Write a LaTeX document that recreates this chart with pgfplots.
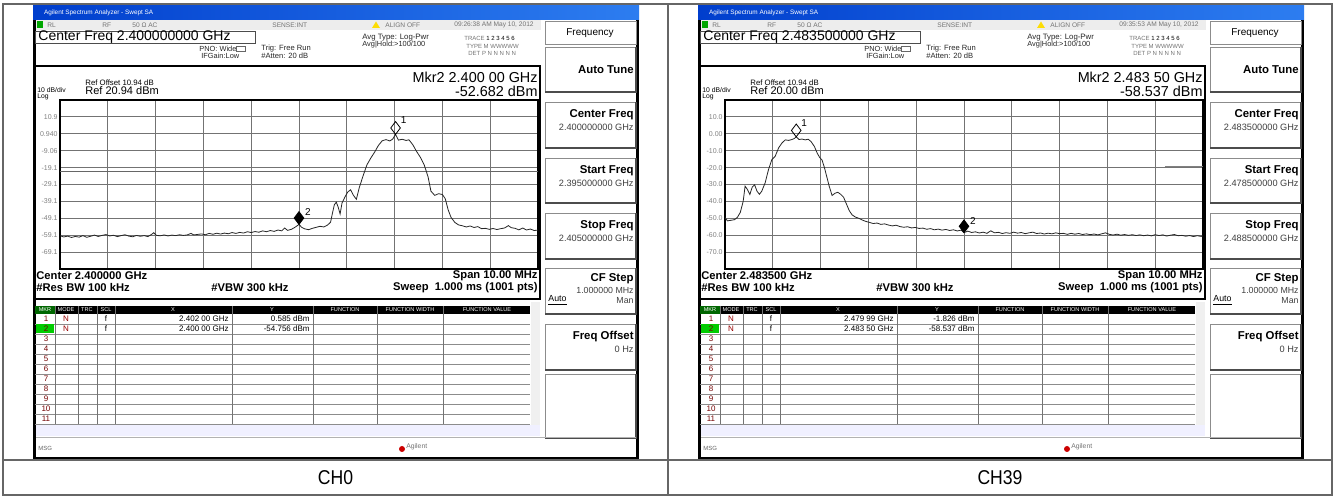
\documentclass[border=0pt]{standalone}
\usepackage{pgfplots}
\pgfplotsset{compat=1.18}
\usepackage{fontspec}
\setmainfont{Liberation Sans}

\newcommand\fs[1]{\fontsize{#1}{#1}\selectfont}
\definecolor{tbA}{RGB}{0,62,205}
\definecolor{tbB}{RGB}{45,125,240}

% one soft key: top, bottom, label, value
\newcommand\skey[4]{%
  \draw[black!45, fill=white] (545,#1) rectangle (636,#2);
  \draw[black!70, line width=0.6pt] (636,#1) -- (636,#2) -- (545,#2);
  \node[anchor=east, inner sep=0.5pt, font={\bfseries\fs{5.7}}] at (635,#1+13) {#3};
  \node[anchor=east, inner sep=0.5pt, font={\fs{4.6}}, black!75] at (635,#1+25) {#4};}

% analyzer window around the trace (strings set with \def before each call)
\newcommand\screen[1]{%
\begin{scope}[xshift=#1]
  \fill[black] (33,5) rectangle (639,460);
  \fill[white] (36,5) rectangle (636,457);
  \shade[left color=tbA, right color=tbB] (33,5) rectangle (639,20);
  \node[anchor=west, white, font={\fs{3.2}}] at (37,12.5) {Agilent Spectrum Analyzer - Swept SA};
  % status line
  \fill[black!7] (36,20) rectangle (541,30);
  \fill[green!65!black] (37,21.5) rectangle (43,28.5);
  \begin{scope}[font={\fs{3.3}}, black!55, inner sep=0pt]
    \node[anchor=west] at (47,25) {RL};
    \node[anchor=west] at (102,25) {RF};
    \node[anchor=west] at (132,25) {50 Ω AC};
    \node[anchor=west] at (272,25) {SENSE:INT};
    \node[anchor=west] at (385,25) {ALIGN OFF};
    \node[anchor=east] at (534,25) {\TIME};
  \end{scope}
  \fill[yellow!80!orange] (372,28) -- (376,21.5) -- (380,28) -- cycle;
  % centre frequency box
  \draw[black!70, line width=0.4pt] (35,31) rectangle (255,43.5);
  \node[anchor=west, inner sep=1pt, font={\fs{7}}] at (36,37.5) {Center Freq \CF};
  \begin{scope}[inner sep=0pt, black!85]
    \node[anchor=west, font={\fs{3.7}}] at (199,48.5) {PNO: Wide};
    \draw[black!60, line width=0.3pt] (236,46) rectangle (245,51.5);
    \node[anchor=west, font={\fs{3.7}}] at (201,56) {IFGain:Low};
    \node[anchor=west, font={\fs{3.8}}] at (261,48.5) {Trig: Free Run};
    \node[anchor=west, font={\fs{3.8}}] at (261,56) {\#Atten: 20 dB};
    \node[anchor=west, font={\fs{3.9}}] at (362,38) {Avg Type: Log-Pwr};
    \node[anchor=west, font={\fs{3.7}}] at (362,45) {Avg|Hold:>100/100};
    \node[anchor=west, font={\fs{3.0}}, black!55] at (464,38) {TRACE \textcolor{black}{1 2 3 4 5 6}};
    \node[anchor=west, font={\fs{3.0}}, black!55] at (466,46) {TYPE M WWWWW};
    \node[anchor=west, font={\fs{3.0}}, black!55] at (468,53) {DET P N N N N N};
  \end{scope}
  % trace window
  \draw[black, line width=0.8pt] (35,66) rectangle (540,299);
  \begin{scope}[inner sep=0pt]
    \node[anchor=west, font={\fs{3.9}}] at (85,83) {Ref Offset 10.94 dB};
    \node[anchor=west, font={\fs{3.4}}] at (37,90) {10 dB/div};
    \node[anchor=west, font={\fs{5.5}}] at (85,91) {Ref \REF};
    \node[anchor=west, font={\fs{3.4}}] at (37,96.5) {Log};
    \node[anchor=east, font={\fs{7.2}}] at (538,77) {Mkr2 \MK};
    \node[anchor=east, font={\fs{7.2}}] at (538,91) {\MV};
    \node[anchor=west, font={\bfseries\fs{5.6}}] at (36,276) {Center \CS};
    \node[anchor=east, font={\bfseries\fs{5.6}}] at (538,276) {Span 10.00 MHz};
    \node[anchor=west, font={\bfseries\fs{5.6}}] at (36,288) {\#Res BW 100 kHz};
    \node[font={\bfseries\fs{5.6}}] at (250,288) {\#VBW 300 kHz};
    \node[anchor=east, font={\bfseries\fs{5.6}}] at (538,288) {Sweep\ \ 1.000 ms (1001 pts)};
  \end{scope}
  % soft keys
  \fill[white] (541,20) rectangle (636,457);
  \draw[black!45, fill=white] (545,21) rectangle (636,44);
  \node[font={\fs{5}}] at (590,33) {Frequency};
  \skey{47}{92}{}{}
  \node[anchor=east, inner sep=0.5pt, font={\bfseries\fs{5.7}}] at (635,70) {Auto Tune};
  \skey{102}{148}{Center Freq}{\CF}
  \skey{158}{203}{Start Freq}{\SF}
  \skey{213}{259}{Stop Freq}{\EF}
  \skey{268}{314}{}{}
  \node[anchor=east, inner sep=0.5pt, font={\bfseries\fs{5.7}}] at (635,279) {CF Step};
  \node[anchor=east, inner sep=0.5pt, font={\fs{4.4}}, black!75] at (635,290) {1.000000 MHz};
  \node[anchor=west, inner sep=0.5pt, font={\fs{4.4}}] at (547,300.5) {\underline{Auto}};
  \node[anchor=east, inner sep=0.5pt, font={\fs{4.4}}, black!75] at (635,300.5) {Man};
  \skey{324}{370}{Freq Offset}{0 Hz}
  \draw[black!45, fill=white] (545,374) rectangle (636,438);
  \draw[black!70, line width=0.6pt] (636,374) -- (636,438) -- (545,438);
  % marker table
  \fill[black] (35,306) rectangle (530,314);
  \fill[green!40!black] (35,306) rectangle (55,314);
  \fill[black!6] (531,302) rectangle (540,425);
  \fill[blue!6] (36,425) rectangle (540,436);
  \foreach \i in {1,...,11} {\draw[black!45, line width=0.4pt] (35,314+10*\i) -- (530,314+10*\i);}
  \foreach \c in {55,78,97,115,232,313,377,443} {\draw[black!55, line width=0.4pt] (\c,306) -- (\c,424);}
  \begin{scope}[font={\fs{2.8}}, white, inner sep=0pt]
    \node at (45,310) {MKR}; \node at (66,310) {MODE}; \node at (87,310) {TRC};
    \node at (106,310) {SCL}; \node at (173,310) {X}; \node at (272,310) {Y};
    \node at (345,310) {FUNCTION}; \node at (410,310) {FUNCTION WIDTH};
    \node at (487,310) {FUNCTION VALUE};
  \end{scope}
  \fill[green!80!black] (36,324.5) rectangle (54,333.5);
  \foreach \i in {1,...,11} {\node[font={\fs{4}}, red!45!black, inner sep=0pt] at (46,309+10*\i) {\i};}
  \begin{scope}[font={\fs{4}}, inner sep=0pt]
    \node[red!60!black] at (66,319) {N}; \node[red!60!black] at (66,329) {N};
    \node at (106,319) {f}; \node at (106,329) {f};
    \node[anchor=east] at (229,319) {\XA}; \node[anchor=east] at (310,319) {\YA};
    \node[anchor=east] at (229,329) {\XB}; \node[anchor=east] at (310,329) {\YB};
  \end{scope}
  % message line
  \draw[black!30] (36,437) -- (636,437);
  \node[anchor=west, font={\fs{3}}, black!60, inner sep=0pt] at (38,448) {MSG};
  \fill[red!80!black] (402,449) circle (3);
  \node[anchor=west, font={\fs{3.4}}, black!55, inner sep=0pt] at (406,447) {Agilent};
\end{scope}}

\pgfplotsset{sa/.style={
  anchor=north west, scale only axis, width=239pt, height=84.5pt,
  xmin=-5, xmax=5, xtick={-4,-3,...,4}, xticklabels={},
  grid=major, major grid style={black!55, line width=0.45pt},
  axis line style={line width=0.9pt}, major tick length=0pt,
  yticklabel style={font={\fs{3.5}}, text=black!50, inner sep=1pt},
  clip=true}}

\begin{document}
\begin{tikzpicture}[x=0.5pt, y=-0.5pt]
\useasboundingbox (0,0) rectangle (1335,496);
\fill[white] (0,0) rectangle (1335,496);

% ---------- CH0 ----------
\def\TIME{09:26:38 AM May 10, 2012}
\def\CF{2.400000000 GHz}\def\SF{2.395000000 GHz}\def\EF{2.405000000 GHz}
\def\REF{20.94 dBm}\def\MK{2.400 00 GHz}\def\MV{-52.682 dBm}\def\CS{2.400000 GHz}
\def\XA{2.402 00 GHz}\def\YA{0.585 dBm}\def\XB{2.400 00 GHz}\def\YB{-54.756 dBm}
\screen{0pt}
\begin{axis}[sa, at={(30pt,-50pt)}, ymin=-79.06, ymax=20.94,
  ytick={10.94,0.94,-9.06,-19.06,-29.06,-39.06,-49.06,-59.06,-69.06},
  yticklabels={10.9,0.940,-9.06,-19.1,-29.1,-39.1,-49.1,-59.1,-69.1}]
\addplot[black!60, line width=0.4pt] coordinates {(-5,-21.5) (5,-21.5)};
\addplot[black!85, line width=0.4pt] coordinates {
(-5.00,-59.4) (-4.92,-60.1) (-4.84,-59.6) (-4.76,-60.4) (-4.68,-59.8) (-4.60,-60.2)
(-4.52,-59.3) (-4.44,-60.3) (-4.36,-59.7) (-4.28,-59.0) (-4.20,-59.8) (-4.12,-59.2)
(-4.04,-58.7) (-3.96,-59.5) (-3.88,-59.1) (-3.80,-59.9) (-3.72,-59.3) (-3.64,-58.8)
(-3.56,-59.6) (-3.48,-60.0) (-3.40,-59.2) (-3.32,-59.7) (-3.24,-59.3) (-3.16,-59.9)
(-3.08,-58.5) (-3.04,-57.6) (-2.98,-59.2) (-2.90,-59.4) (-2.82,-58.9) (-2.74,-59.5)
(-2.66,-59.0) (-2.58,-59.3) (-2.50,-58.8) (-2.42,-59.2) (-2.34,-58.9) (-2.26,-58.0)
(-2.20,-58.9) (-2.12,-58.6) (-2.04,-58.3) (-1.96,-58.8) (-1.88,-58.0) (-1.80,-58.5)
(-1.72,-57.9) (-1.64,-58.4) (-1.56,-57.8) (-1.48,-58.2) (-1.40,-57.5) (-1.32,-58.0)
(-1.24,-57.4) (-1.16,-57.8) (-1.08,-57.0) (-1.00,-57.5) (-0.92,-56.9) (-0.84,-57.3)
(-0.76,-56.5) (-0.68,-57.0) (-0.60,-56.3) (-0.52,-56.8) (-0.44,-56.0) (-0.36,-56.5)
(-0.30,-54.8) (-0.24,-56.2) (-0.16,-55.6) (-0.08,-54.3) (0.00,-52.7) (0.06,-54.5)
(0.12,-55.3) (0.20,-55.8) (0.28,-55.0) (0.36,-54.4) (0.44,-53.8) (0.52,-54.2)
(0.60,-53.0) (0.66,-51.4) (0.70,-46.0) (0.74,-41.0) (0.78,-39.5) (0.82,-42.5)
(0.86,-46.5) (0.90,-40.0) (0.96,-36.5) (1.02,-33.5) (1.08,-32.2) (1.14,-35.5)
(1.20,-37.8) (1.26,-31.0) (1.34,-24.0) (1.42,-17.5) (1.50,-13.5) (1.58,-10.0)
(1.66,-6.0) (1.74,-3.2) (1.82,-2.5) (1.90,-3.3) (1.96,-2.2) (2.02,0.6)
(2.08,-2.8) (2.16,-2.3) (2.24,-3.0) (2.30,-2.6) (2.38,-5.5) (2.46,-9.5)
(2.54,-13.0) (2.62,-17.5) (2.70,-24.5) (2.76,-33.0) (2.84,-35.5) (2.92,-34.5)
(3.00,-35.0) (3.06,-37.5) (3.12,-44.0) (3.18,-48.5) (3.26,-51.5) (3.34,-53.0)
(3.42,-53.5) (3.50,-54.2) (3.58,-53.6) (3.66,-54.5) (3.74,-54.0) (3.82,-55.2)
(3.90,-55.0) (3.98,-55.6) (4.06,-55.1) (4.14,-55.7) (4.22,-55.2) (4.30,-54.8)
(4.38,-53.4) (4.44,-54.6) (4.52,-55.0) (4.60,-55.9) (4.68,-54.8) (4.76,-56.0)
(4.84,-55.4) (4.92,-56.3) (5.00,-56.0)};
\addplot[only marks, mark=diamond, mark size=3.2pt, mark options={yshift=3.2pt, black, line width=0.4pt}]
  coordinates {(2.02,0.6)} node[font={\fs{5}}, xshift=4pt, yshift=7pt] {1};
\addplot[only marks, mark=diamond*, mark size=3.2pt, mark options={yshift=3.2pt, black}]
  coordinates {(0,-52.7)} node[font={\fs{5}}, xshift=4.5pt, yshift=6pt] {2};
\end{axis}

% ---------- CH39 ----------
\def\TIME{09:35:53 AM May 10, 2012}
\def\CF{2.483500000 GHz}\def\SF{2.478500000 GHz}\def\EF{2.488500000 GHz}
\def\REF{20.00 dBm}\def\MK{2.483 50 GHz}\def\MV{-58.537 dBm}\def\CS{2.483500 GHz}
\def\XA{2.479 99 GHz}\def\YA{-1.826 dBm}\def\XB{2.483 50 GHz}\def\YB{-58.537 dBm}
\screen{332.5pt}
\begin{axis}[sa, at={(362.5pt,-50pt)}, ymin=-80, ymax=20,
  ytick={10,0,-10,-20,-30,-40,-50,-60,-70},
  yticklabels={10.0,0.00,-10.0,-20.0,-30.0,-40.0,-50.0,-60.0,-70.0}]
\addplot[black!50, line width=0.4pt] coordinates {(4.2,-19.3) (5,-19.3)};
\addplot[black!85, line width=0.4pt] coordinates {
(-5.00,-49.6) (-4.95,-51.5) (-4.88,-51.2) (-4.80,-50.8) (-4.74,-49.4) (-4.68,-46.5)
(-4.62,-40.0) (-4.58,-31.0) (-4.53,-33.0) (-4.48,-35.9) (-4.43,-31.5) (-4.38,-30.2)
(-4.33,-34.0) (-4.28,-35.8) (-4.23,-33.9) (-4.16,-29.0) (-4.09,-21.2) (-4.02,-15.3)
(-3.95,-13.3) (-3.88,-8.4) (-3.81,-5.5) (-3.74,-3.6) (-3.67,-3.9) (-3.60,-3.4)
(-3.55,-2.8) (-3.51,-1.8) (-3.45,-3.4) (-3.39,-3.1) (-3.32,-3.6) (-3.26,-3.2)
(-3.20,-4.6) (-3.13,-7.5) (-3.07,-11.5) (-3.02,-14.0) (-2.97,-15.5) (-2.92,-20.0)
(-2.87,-25.5) (-2.82,-31.0) (-2.76,-36.5) (-2.70,-35.2) (-2.64,-34.6) (-2.58,-35.8)
(-2.52,-37.5) (-2.46,-41.5) (-2.40,-45.5) (-2.34,-48.0) (-2.27,-49.3) (-2.20,-50.0)
(-2.13,-51.0) (-2.06,-51.8) (-1.98,-52.4) (-1.90,-53.1) (-1.82,-52.8) (-1.74,-53.6)
(-1.66,-53.3) (-1.58,-54.0) (-1.50,-54.5) (-1.42,-54.1) (-1.34,-54.9) (-1.26,-55.3)
(-1.18,-55.0) (-1.10,-55.7) (-1.02,-55.4) (-0.94,-56.0) (-0.86,-55.8) (-0.78,-56.5)
(-0.70,-56.1) (-0.62,-56.8) (-0.54,-56.4) (-0.46,-57.0) (-0.38,-56.6) (-0.30,-57.2)
(-0.22,-56.8) (-0.14,-57.5) (-0.06,-57.0) (0.00,-58.5) (0.08,-57.6) (0.16,-58.4)
(0.24,-58.0) (0.32,-58.7) (0.40,-58.2) (0.48,-58.9) (0.56,-57.4) (0.64,-58.6)
(0.72,-58.3) (0.80,-59.0) (0.88,-58.5) (0.96,-58.9) (1.04,-58.2) (1.12,-58.8)
(1.20,-58.4) (1.28,-59.1) (1.36,-58.6) (1.44,-58.2) (1.52,-59.0) (1.60,-58.7)
(1.68,-59.3) (1.76,-58.8) (1.84,-59.2) (1.92,-58.6) (2.00,-59.1) (2.08,-58.9)
(2.16,-59.5) (2.24,-58.9) (2.32,-59.4) (2.40,-59.0) (2.48,-59.6) (2.56,-59.2)
(2.64,-59.7) (2.72,-59.3) (2.80,-59.8) (2.88,-59.2) (2.96,-58.6) (3.04,-59.5)
(3.12,-59.9) (3.20,-59.4) (3.28,-60.0) (3.36,-59.6) (3.44,-60.1) (3.52,-59.7)
(3.60,-60.2) (3.68,-59.8) (3.76,-60.3) (3.84,-59.9) (3.92,-60.4) (4.00,-59.7)
(4.08,-60.2) (4.16,-59.8) (4.24,-60.5) (4.32,-60.0) (4.40,-59.6) (4.48,-60.3)
(4.56,-60.1) (4.64,-60.6) (4.72,-60.2) (4.80,-60.8) (4.88,-60.3) (4.96,-60.7)
(5.00,-60.4)};
\addplot[only marks, mark=diamond, mark size=3.2pt, mark options={yshift=3.2pt, black, line width=0.4pt}]
  coordinates {(-3.51,-1.8)} node[font={\fs{5}}, xshift=4pt, yshift=7pt] {1};
\addplot[only marks, mark=diamond*, mark size=3.2pt, mark options={yshift=3.2pt, black}]
  coordinates {(0,-58.5)} node[font={\fs{5}}, xshift=4.5pt, yshift=6pt] {2};
\end{axis}

% ---------- outer table ----------
\draw[black!60, line width=0.75pt] (3,4) rectangle (1332,495);
\draw[black!60, line width=0.75pt] (668,4) -- (668,495);
\draw[black!60, line width=0.75pt] (3,460) -- (1332,460);
\node[font={\fs{10}}, xscale=0.88] at (335.5,478) {CH0};
\node[font={\fs{10}}, xscale=0.88] at (1000,478) {CH39};
\end{tikzpicture}
\end{document}
